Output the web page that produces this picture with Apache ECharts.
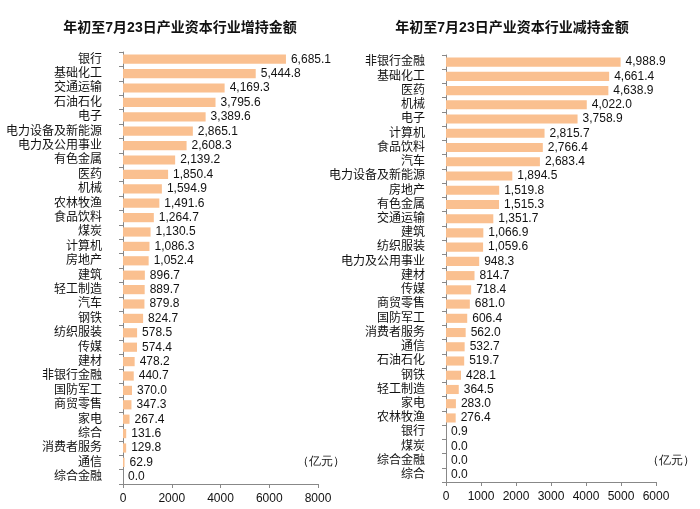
<!DOCTYPE html>
<html><head><meta charset="utf-8">
<script src="https://cdn.jsdelivr.net/npm/echarts@6/dist/echarts.min.js"></script>
<style>html,body{margin:0;padding:0;background:#fff}#c{width:700px;height:509px}</style>
</head><body><div id="c"></div>
<script>
var leftTitle = '年初至7月23日产业资本行业增持金额';
var rightTitle = '年初至7月23日产业资本行业减持金额';
var leftCats = ['银行','基础化工','交通运输','石油石化','电子','电力设备及新能源','电力及公用事业','有色金属','医药','机械','农林牧渔','食品饮料','煤炭','计算机','房地产','建筑','轻工制造','汽车','钢铁','纺织服装','传媒','建材','非银行金融','国防军工','商贸零售','家电','综合','消费者服务','通信','综合金融'];
var leftVals = [6685.1,5444.8,4169.3,3795.6,3389.6,2865.1,2608.3,2139.2,1850.4,1594.9,1491.6,1264.7,1130.5,1086.3,1052.4,896.7,889.7,879.8,824.7,578.5,574.4,478.2,440.7,370.0,347.3,267.4,131.6,129.8,62.9,0.0];
var rightCats = ['非银行金融','基础化工','医药','机械','电子','计算机','食品饮料','汽车','电力设备及新能源','房地产','有色金属','交通运输','建筑','纺织服装','电力及公用事业','建材','传媒','商贸零售','国防军工','消费者服务','通信','石油石化','钢铁','轻工制造','家电','农林牧渔','银行','煤炭','综合金融','综合'];
var rightVals = [4988.9,4661.4,4638.9,4022.0,3758.9,2815.7,2766.4,2683.4,1894.5,1519.8,1515.3,1351.7,1066.9,1059.6,948.3,814.7,718.4,681.0,606.4,562.0,532.7,519.7,428.1,364.5,283.0,276.4,0.9,0.0,0.0,0.0];
var unitText = '（亿元）';

var FONT = '"Liberation Sans", Arial, "Noto Sans CJK SC", sans-serif';
var BAR = '#FAC090';
function fmt(v){
  var s = v.toFixed(1), p = s.split('.');
  p[0] = p[0].replace(/\B(?=(\d{3})+(?!\d))/g, ',');
  return p.join('.');
}
function xAx(idx, max, interval){
  return {gridIndex: idx, type:'value', min:0, max:max, interval:interval,
    splitLine:{show:false},
    axisLine:{show:true, lineStyle:{color:'#888', width:1}},
    axisTick:{show:true, length:4, lineStyle:{color:'#888'}},
    axisLabel:{color:'#111', fontSize:12, fontFamily:FONT, margin:9,
      formatter:function(v){return String(v);}}};
}
function yAx(idx, cats){
  return {gridIndex: idx, type:'category', data:cats, inverse:true,
    axisLine:{show:true, lineStyle:{color:'#888', width:1}},
    axisTick:{show:true, length:4, alignWithLabel:false, lineStyle:{color:'#888'}},
    axisLabel:{color:'#111', fontSize:12, fontFamily:FONT, margin:21, interval:0}};
}
function ser(idx, vals){
  return {type:'bar', xAxisIndex:idx, yAxisIndex:idx, data:vals, barWidth:'64%',
    itemStyle:{color:BAR}, silent:true, animation:false,
    label:{show:true, position:'right', distance:5, color:'#111', fontSize:12, fontFamily:FONT,
      formatter:function(p){return fmt(p.value);}}};
}
var chart = echarts.init(document.getElementById('c'), null, {renderer:'canvas'});
chart.setOption({
  animation:false,
  backgroundColor:'#fff',
  title:[
    {text:leftTitle, left:175, top:16, textAlign:'center', textStyle:{fontSize:14, fontWeight:'bold', color:'#111', fontFamily:FONT}},
    {text:rightTitle, left:507, top:16, textAlign:'center', textStyle:{fontSize:14, fontWeight:'bold', color:'#111', fontFamily:FONT}}
  ],
  grid:[
    {left:123, top:52, width:195, height:432, containLabel:false},
    {left:446, top:55, width:210, height:427, containLabel:false}
  ],
  xAxis:[xAx(0, 8000, 2000), xAx(1, 6000, 1000)],
  yAxis:[yAx(0, leftCats), yAx(1, rightCats)],
  series:[ser(0, leftVals), ser(1, rightVals)],
  graphic:[
    {type:'text', left:297, top:456, style:{text:unitText, fontSize:12, fill:'#111', font:'12px "Noto Sans CJK SC", sans-serif'}},
    {type:'text', left:647, top:455, style:{text:unitText, fontSize:12, fill:'#111', font:'12px "Noto Sans CJK SC", sans-serif'}}
  ]
});
</script></body></html>
